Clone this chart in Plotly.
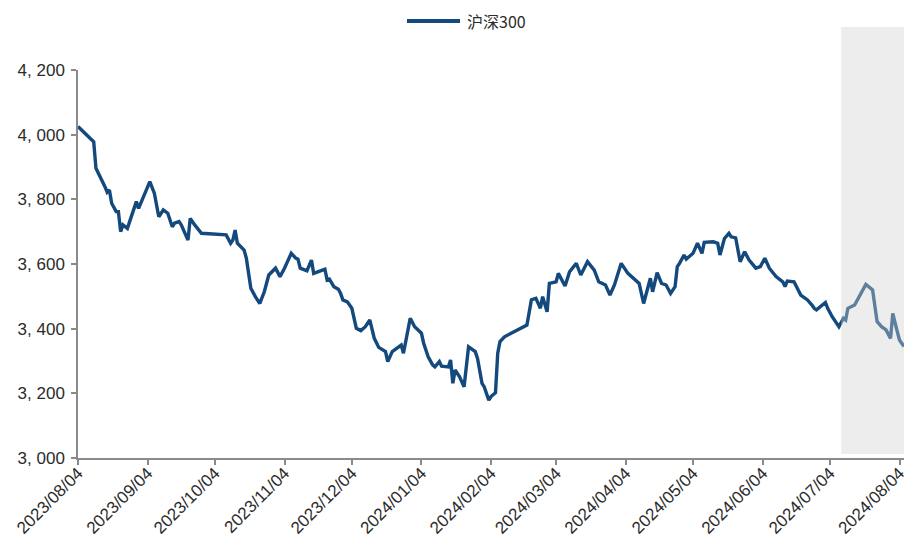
import plotly.graph_objects as go

# 沪深300 daily closes (date, level)
dates = [
    "2023-08-04", "2023-08-10", "2023-08-11", "2023-08-12", "2023-08-14", "2023-08-16",
    "2023-08-17", "2023-08-18", "2023-08-19", "2023-08-21", "2023-08-22", "2023-08-23",
    "2023-08-24", "2023-08-26", "2023-08-27", "2023-08-30", "2023-08-31", "2023-09-05",
    "2023-09-07", "2023-09-09", "2023-09-11", "2023-09-13", "2023-09-15", "2023-09-16",
    "2023-09-18", "2023-09-19", "2023-09-22", "2023-09-23", "2023-09-25", "2023-09-28",
    "2023-10-09", "2023-10-11", "2023-10-12", "2023-10-13", "2023-10-14", "2023-10-16",
    "2023-10-17", "2023-10-18", "2023-10-20", "2023-10-22", "2023-10-24", "2023-10-26",
    "2023-10-28", "2023-10-31", "2023-11-02", "2023-11-04", "2023-11-07", "2023-11-09",
    "2023-11-10", "2023-11-11", "2023-11-14", "2023-11-16", "2023-11-17", "2023-11-20",
    "2023-11-22", "2023-11-23", "2023-11-24", "2023-11-26", "2023-11-28", "2023-11-29",
    "2023-11-30", "2023-12-02", "2023-12-04", "2023-12-06", "2023-12-08", "2023-12-10",
    "2023-12-12", "2023-12-14", "2023-12-16", "2023-12-19", "2023-12-20", "2023-12-22",
    "2023-12-24", "2023-12-26", "2023-12-27", "2023-12-28", "2023-12-30", "2024-01-01",
    "2024-01-04", "2024-01-05", "2024-01-07", "2024-01-09", "2024-01-10", "2024-01-12",
    "2024-01-13", "2024-01-16", "2024-01-17", "2024-01-18", "2024-01-19", "2024-01-21",
    "2024-01-23", "2024-01-25", "2024-01-28", "2024-01-29", "2024-01-31", "2024-02-01",
    "2024-02-03", "2024-02-04", "2024-02-06", "2024-02-07", "2024-02-08", "2024-02-10",
    "2024-02-20", "2024-02-22", "2024-02-24", "2024-02-26", "2024-02-27", "2024-02-29",
    "2024-03-01", "2024-03-04", "2024-03-05", "2024-03-08", "2024-03-10", "2024-03-13",
    "2024-03-15", "2024-03-18", "2024-03-20", "2024-03-21", "2024-03-23", "2024-03-26",
    "2024-03-28", "2024-03-30", "2024-04-02", "2024-04-05", "2024-04-10", "2024-04-12",
    "2024-04-15", "2024-04-16", "2024-04-18", "2024-04-20", "2024-04-22", "2024-04-24",
    "2024-04-26", "2024-04-27", "2024-04-28", "2024-04-30", "2024-05-01", "2024-05-04",
    "2024-05-06", "2024-05-08", "2024-05-09", "2024-05-13", "2024-05-15", "2024-05-16",
    "2024-05-18", "2024-05-20", "2024-05-21", "2024-05-23", "2024-05-25", "2024-05-27",
    "2024-05-29", "2024-06-01", "2024-06-03", "2024-06-05", "2024-06-07", "2024-06-10",
    "2024-06-13", "2024-06-14", "2024-06-15", "2024-06-18", "2024-06-21", "2024-06-24",
    "2024-06-26", "2024-06-27", "2024-06-28", "2024-07-01", "2024-07-02", "2024-07-03",
    "2024-07-05", "2024-07-08", "2024-07-10", "2024-07-11", "2024-07-12", "2024-07-15",
    "2024-07-16", "2024-07-17", "2024-07-20", "2024-07-23", "2024-07-25", "2024-07-27",
    "2024-07-29", "2024-07-31", "2024-08-01", "2024-08-03", "2024-08-04", "2024-08-06",
]
hs300 = [
    4025, 3983, 3978, 3896, 3870, 3839,
    3822, 3829, 3788, 3762, 3762, 3700,
    3721, 3710, 3731, 3793, 3772, 3855,
    3819, 3746, 3767, 3757, 3715, 3726,
    3731, 3721, 3674, 3741, 3721, 3695,
    3690, 3664, 3674, 3705, 3664, 3649,
    3643, 3618, 3525, 3499, 3478, 3514,
    3566, 3587, 3561, 3587, 3633, 3618,
    3615, 3587, 3579, 3612, 3571, 3579,
    3584, 3550, 3553, 3530, 3522, 3509,
    3489, 3483, 3463, 3401, 3394, 3406,
    3427, 3370, 3342, 3329, 3298, 3329,
    3339, 3349, 3324, 3365, 3432, 3406,
    3386, 3355, 3313, 3288, 3282, 3298,
    3284, 3282, 3303, 3231, 3272, 3251,
    3220, 3344, 3329, 3308, 3231, 3220,
    3179, 3190, 3202, 3324, 3360, 3375,
    3411, 3489, 3494, 3463, 3499, 3452,
    3540, 3545, 3571, 3532, 3576, 3602,
    3566, 3607, 3587, 3581, 3545, 3535,
    3504, 3535, 3602, 3571, 3540, 3478,
    3556, 3514, 3573, 3540, 3535, 3509,
    3530, 3592, 3602, 3628, 3615, 3633,
    3664, 3633, 3667, 3669, 3664, 3628,
    3679, 3695, 3684, 3681, 3607, 3638,
    3612, 3587, 3592, 3618, 3587, 3561,
    3545, 3530, 3547, 3545, 3504, 3489,
    3473, 3463, 3458, 3473, 3481, 3463,
    3437, 3406, 3432, 3427, 3463, 3473,
    3486, 3499, 3537, 3520, 3422, 3406,
    3396, 3370, 3447, 3391, 3365, 3345,
]

# Monthly ticks on the date axis
tick_dates = [
    "2023-08-04", "2023-09-04", "2023-10-04", "2023-11-04", "2023-12-04", "2024-01-04",
    "2024-02-04", "2024-03-04", "2024-04-04", "2024-05-04", "2024-06-04", "2024-07-04",
    "2024-08-04",
]
tick_labels = [d.replace("-", "/") for d in tick_dates]

y_ticks = [3000, 3200, 3400, 3600, 3800, 4000, 4200]
y_labels = [f"{v // 1000}, {v % 1000:03d}" for v in y_ticks]

# Highlighted recent window
shade_start = "2024-07-09"
shade_end = "2024-08-06"

series_name = "沪深300"
line_color = "#13497C"
axis_color = "#8A8A8A"
text_color = "#2B2B2B"
font_family = "Liberation Sans, Noto Sans CJK SC, sans-serif"

fig = go.Figure()
fig.add_trace(go.Scatter(
    x=dates, y=hs300, mode="lines", name=series_name,
    line=dict(color=line_color, width=3.4),
    showlegend=False,
))

# Grey band laid over the latest weeks
fig.add_shape(
    type="rect", xref="x", yref="paper",
    x0=shade_start, x1=shade_end, y0=0.01, y1=1.111,
    fillcolor="rgba(209,209,209,0.40)", line=dict(width=0), layer="above",
)

# Legend entry at the top centre
fig.add_shape(
    type="line", xref="paper", yref="paper",
    x0=(407 - 78) / 826, x1=(460 - 78) / 826,
    y0=(458 - 21) / 388, y1=(458 - 21) / 388,
    line=dict(color=line_color, width=4),
)
fig.add_annotation(
    xref="paper", yref="paper", x=(465 - 78) / 826, y=(458 - 21) / 388,
    text=series_name, showarrow=False, xanchor="left", yanchor="middle",
    font=dict(family="Noto Sans CJK SC, sans-serif", size=16, color=text_color),
)

fig.update_layout(
    width=907, height=548,
    margin=dict(l=78, r=3, t=70, b=90),
    paper_bgcolor="white", plot_bgcolor="white",
    font=dict(family=font_family, size=16, color=text_color),
    showlegend=False,
)
fig.update_xaxes(
    type="date", range=["2023-08-04", "2024-08-06"],
    tickvals=tick_dates, ticktext=tick_labels, tickangle=-45,
    showgrid=False, zeroline=False, automargin=False,
    showline=True, linecolor=axis_color, linewidth=1.5,
    ticks="outside", ticklen=5, tickcolor=axis_color, tickwidth=1.5,
    tickfont=dict(size=17, color=text_color),
    ticklabeloverflow="allow", ticklabelstandoff=-8,
)
fig.update_yaxes(
    range=[3000, 4200], tickvals=y_ticks, ticktext=y_labels,
    showgrid=False, zeroline=False, automargin=False,
    showline=True, linecolor=axis_color, linewidth=1.5,
    ticks="outside", ticklen=5, tickcolor=axis_color, tickwidth=1.5,
    tickfont=dict(size=17, color=text_color),
    ticklabelstandoff=3,
)

fig.write_html("out.html")
